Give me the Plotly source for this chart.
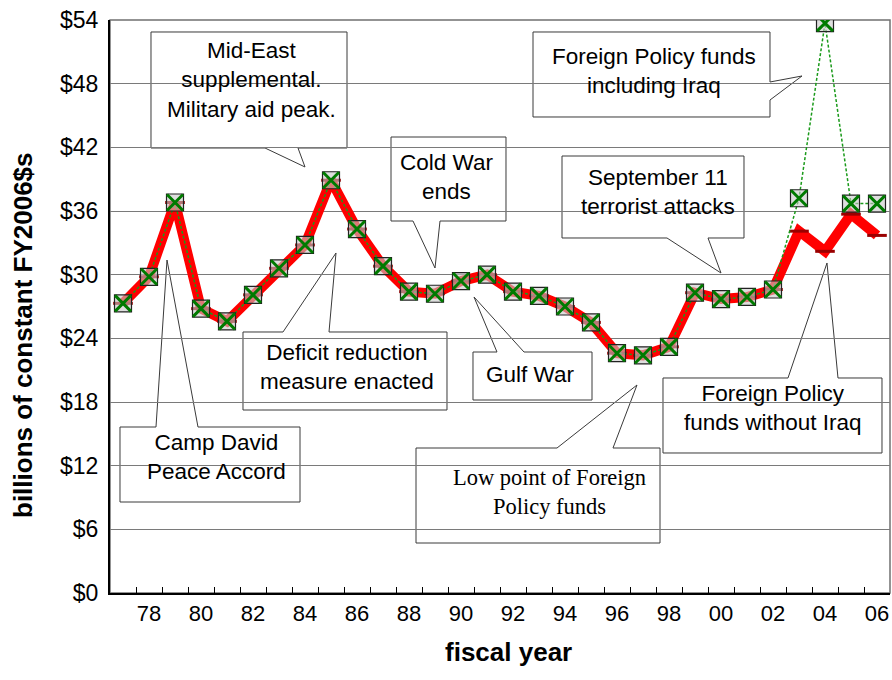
import plotly.graph_objects as go

# ---------------- data ----------------
years = ["77", "78", "79", "80", "81", "82", "83", "84", "85", "86",
         "87", "88", "89", "90", "91", "92", "93", "94", "95", "96",
         "97", "98", "99", "00", "01", "02", "03", "04", "05", "06"]
fp_without_iraq = [27.3, 29.8, 36.8, 26.8, 25.6, 28.1, 30.6, 32.8, 38.9, 34.3,
                   30.8, 28.4, 28.2, 29.4, 30.0, 28.4, 28.0, 27.0, 25.5, 22.6,
                   22.4, 23.2, 28.3, 27.7, 27.9, 28.6, 34.1, 32.2, 35.7, 33.7]
fp_with_iraq = [27.3, 29.8, 36.8, 26.8, 25.6, 28.1, 30.6, 32.8, 38.9, 34.3,
                30.8, 28.4, 28.2, 29.4, 30.0, 28.4, 28.0, 27.0, 25.5, 22.6,
                22.4, 23.2, 28.3, 27.7, 27.9, 28.6, 37.2, 53.7, 36.7, 36.7]
tick_labels = ["78", "80", "82", "84", "86", "88", "90", "92", "94", "96",
               "98", "00", "02", "04", "06"]
y_ticks = [0, 6, 12, 18, 24, 30, 36, 42, 48, 54]

# ---------------- layout geometry ----------------
W, H = 892, 680
L, R, T, B = 110, 890, 20, 593


def px(x):
    return (x - L) / (R - L)


def py(y):
    return (B - y) / (B - T)


def pt(x, y):
    return f"{px(x):.5f},{py(y):.5f}"


def callout(x0, y0, x1, y1, side, a, b, tip):
    # box with a wedge (speech bubble) on one side
    tx, ty = tip
    if side == "bottom":
        pts = [(x0, y0), (x1, y0), (x1, y1), (b, y1), (tx, ty), (a, y1), (x0, y1)]
    elif side == "top":
        pts = [(x0, y0), (a, y0), (tx, ty), (b, y0), (x1, y0), (x1, y1), (x0, y1)]
    else:  # right
        pts = [(x0, y0), (x1, y0), (x1, a), (tx, ty), (x1, b), (x1, y1), (x0, y1)]
    path = "M " + " L ".join(pt(*p) for p in pts) + " Z"
    return dict(type="path", xref="paper", yref="paper", path=path,
                fillcolor="white", line=dict(color="#3a3a3a", width=1),
                layer="between")


callouts = [
    # (box, side, base a, base b, tip, text, text center, serif)
    ((151, 32, 347, 148), "bottom", 265, 298, (305, 167),
     "Mid-East<br>supplemental.<br>Military aid peak.", (251, 80), False),
    ((391, 137, 506, 221), "bottom", 413, 440, (435, 268),
     "Cold War<br>ends", (446, 177), False),
    ((562, 156, 744, 238), "bottom", 667, 708, (721, 273),
     "September 11<br>terrorist attacks", (658, 192), False),
    ((533, 32, 770, 117), "right", 82, 100, (802, 76),
     "Foreign Policy funds<br>including Iraq", (654, 71), False),
    ((243, 332, 447, 410), "top", 283, 329, (336, 253),
     "Deficit reduction<br>measure enacted", (347, 367), False),
    ((473, 352, 592, 400), "top", 497, 524, (474, 297),
     "Gulf War", (530, 374), False),
    ((120, 427, 300, 502), "top", 156, 198, (167, 260),
     "Camp David<br>Peace Accord", (216, 457), False),
    ((416, 448, 660, 543), "top", 557, 613, (637, 385),
     "Low point of Foreign<br>Policy funds", (549, 492), True),
    ((663, 378, 882, 453), "top", 788, 838, (827, 263),
     "Foreign Policy<br>funds without Iraq", (773, 408), False),
]

shapes = [dict(type="rect", xref="paper", yref="paper", x0=0, y0=0, x1=1, y1=1,
               line=dict(color="#707070", width=1.5), layer="between")]
annotations = []
for box, side, a, b, tip, text, (cx, cy), serif in callouts:
    shapes.append(callout(*box, side, a, b, tip))
    annotations.append(dict(
        xref="paper", yref="paper", x=px(cx), y=py(cy), text=text,
        showarrow=False, xanchor="center", yanchor="middle", align="center",
        font=dict(family="Liberation Serif, Times New Roman, serif" if serif
                  else "Arial, Liberation Sans, sans-serif",
                  size=22.5, color="black")))

# axis titles
annotations.append(dict(
    xref="paper", yref="paper", x=px(23), y=py(335),
    text="<b>billions of constant FY2006$s</b>", textangle=-90,
    showarrow=False, xanchor="center", yanchor="middle",
    font=dict(family="Arial, Liberation Sans, sans-serif", size=26, color="black")))
annotations.append(dict(
    xref="paper", yref="paper", x=px(508), y=py(652),
    text="<b>fiscal year</b>",
    showarrow=False, xanchor="center", yanchor="middle",
    font=dict(family="Arial, Liberation Sans, sans-serif", size=26, color="black")))

fig = go.Figure()

# Foreign Policy funds without Iraq (thick red)
fig.add_trace(go.Scatter(
    x=years, y=fp_without_iraq, mode="lines+markers",
    line=dict(color="#ff0000", width=10),
    marker=dict(symbol="line-ew", size=14,
                line=dict(color="#9a0000", width=3)),
    name="without Iraq", showlegend=False, hoverinfo="skip"))

# Foreign Policy funds including Iraq (dotted green, boxed X markers)
fig.add_trace(go.Scatter(
    x=years, y=fp_with_iraq, mode="lines+markers",
    line=dict(color="#1a9a1a", width=1.5, dash="3px,2px"),
    marker=dict(symbol="square", size=17, color="rgba(200,200,200,0.6)",
                line=dict(color="#222222", width=1.2)),
    name="including Iraq", showlegend=False, hoverinfo="skip"))
fig.add_trace(go.Scatter(
    x=years, y=fp_with_iraq, mode="markers",
    marker=dict(symbol="x-thin", size=16,
                line=dict(color="#007a00", width=3)),
    showlegend=False, hoverinfo="skip"))

fig.update_layout(
    width=W, height=H,
    margin=dict(l=L, r=W - R, t=T, b=H - B, autoexpand=False),
    paper_bgcolor="white", plot_bgcolor="white",
    shapes=shapes, annotations=annotations,
    font=dict(family="Arial, Liberation Sans, sans-serif", size=22, color="black"),
)

fig.update_xaxes(
    type="category", categoryorder="array", categoryarray=years,
    range=[-0.5, len(years) - 0.5], automargin=False,
    tickmode="array", tickvals=years, tickangle=0,
    ticktext=[y if y in tick_labels else "" for y in years],
    tickson="boundaries", ticks="inside", ticklen=6, tickwidth=1, tickcolor="black",
    showgrid=False, zeroline=False,
    showline=True, linecolor="black", linewidth=2,
    tickfont=dict(size=22, color="black"),
)
fig.update_yaxes(
    range=[0, 54], automargin=False, tickmode="array", tickvals=y_ticks,
    ticktext=[f"${v}" for v in y_ticks], ticks="", ticklabelstandoff=5,
    showgrid=True, gridcolor="#7a7a7a", gridwidth=1,
    zeroline=False, showline=True, linecolor="black", linewidth=2,
    tickfont=dict(size=23, color="black"),
)

fig.write_html(
    "out.html",
    config={"displayModeBar": False},
    post_script="document.body.style.margin='0px';document.body.style.overflow='hidden';",
)
